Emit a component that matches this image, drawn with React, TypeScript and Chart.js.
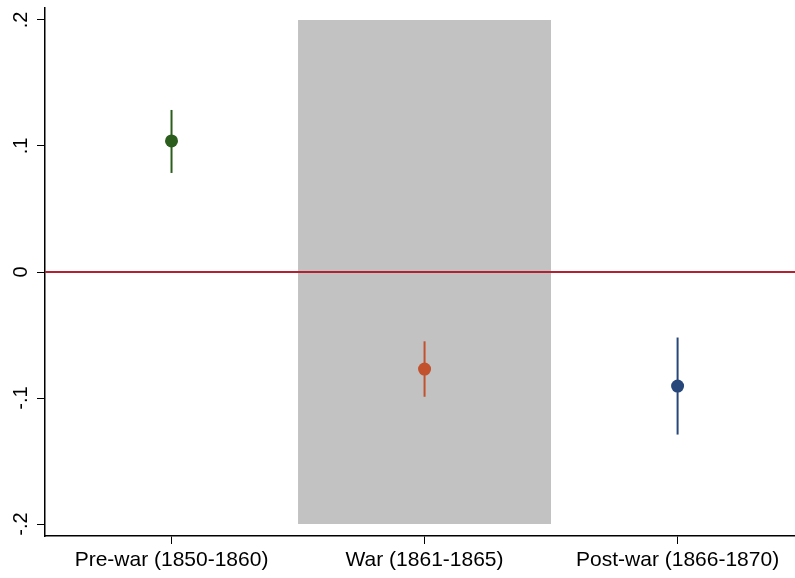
import React, { useEffect, useRef } from "react";
import { Chart, registerables } from "chart.js";

Chart.register(...registerables);

// Periods and their estimated effects with 95% confidence intervals
const periods = ["Pre-war (1850-1860)", "War (1861-1865)", "Post-war (1866-1870)"];
const positions = [1, 2, 3];
const estimates = [0.104, -0.077, -0.0905];
const ciLow = [0.0786, -0.099, -0.129];
const ciHigh = [0.1286, -0.055, -0.052];
const colors = ["#2b5e1c", "#c1522d", "#27477a"];

// Shaded war period
const bandX = [1.5, 2.5];
const bandLow = -0.2;
const bandHigh = 0.2;

const yTicks = [-0.2, -0.1, 0, 0.1, 0.2];
const yRange = [-0.2095, 0.2095];
const xRange = [0.5, 3.464];

const FONT_FAMILY = "'Liberation Sans', Arial, Helvetica, sans-serif";

const fmt = (v: number) => {
  if (Math.abs(v) < 1e-9) return "0";
  return v.toFixed(1).replace("0.", ".");
};

// Vertical y-axis labels, reading bottom to top, centred on their ticks
const rotatedYLabels = {
  id: "rotatedYLabels",
  afterDraw(chart: any) {
    const { ctx, scales } = chart;
    const y = scales.y;
    ctx.save();
    ctx.fillStyle = "#000";
    ctx.font = `20px ${FONT_FAMILY}`;
    ctx.textAlign = "center";
    ctx.textBaseline = "middle";
    yTicks.forEach((v) => {
      const py = y.getPixelForValue(v);
      ctx.save();
      ctx.translate(y.right - 24, py);
      ctx.rotate(-Math.PI / 2);
      ctx.fillText(fmt(v), 0, 0);
      ctx.restore();
    });
    ctx.restore();
  },
};

export default function App() {
  const ref = useRef<HTMLCanvasElement>(null);

  useEffect(() => {
    if (!ref.current) return;
    const font = { family: FONT_FAMILY, size: 21 };

    const datasets: any[] = [
      {
        data: bandX.map((x) => ({ x, y: bandLow })),
        showLine: true,
        borderWidth: 0,
        pointRadius: 0,
        fill: false,
        order: 10,
      },
      {
        data: bandX.map((x) => ({ x, y: bandHigh })),
        showLine: true,
        borderWidth: 0,
        pointRadius: 0,
        fill: "-1",
        backgroundColor: "#c2c2c2",
        order: 9,
      },
      {
        data: xRange.map((x) => ({ x, y: 0 })),
        showLine: true,
        borderColor: "#b42130",
        borderWidth: 1.8,
        pointRadius: 0,
        order: 5,
      },
    ];

    positions.forEach((p, i) => {
      datasets.push({
        data: [
          { x: p, y: ciLow[i] },
          { x: p, y: ciHigh[i] },
        ],
        showLine: true,
        borderColor: colors[i],
        borderWidth: 2,
        pointRadius: 0,
        order: 3,
      });
    });

    datasets.push({
      data: positions.map((p, i) => ({ x: p, y: estimates[i] })),
      showLine: false,
      pointRadius: 6.5,
      pointBackgroundColor: colors,
      pointBorderColor: colors,
      pointBorderWidth: 0,
      order: 1,
    });

    const chart = new Chart(ref.current, {
      type: "scatter",
      data: { datasets },
      plugins: [rotatedYLabels],
      options: {
        animation: false,
        responsive: false,
        layout: { autoPadding: false, padding: { top: 8, right: 0, left: 0, bottom: 0 } },
        plugins: { legend: { display: false }, tooltip: { enabled: false } },
        scales: {
          x: {
            type: "linear",
            min: xRange[0],
            max: xRange[1],
            afterBuildTicks: (s: any) => {
              s.ticks = positions.map((v) => ({ value: v }));
            },
            afterFit: (s: any) => {
              s.height = 42;
              s.paddingLeft = 0;
              s.paddingRight = 0;
            },
            ticks: {
              color: "#000",
              font,
              padding: 4,
              maxRotation: 0,
              minRotation: 0,
              callback: (v: any) => periods[positions.indexOf(Number(v))] ?? "",
            },
            grid: { drawOnChartArea: false, drawTicks: true, tickLength: 8, color: "#000", lineWidth: 1 },
            border: { display: true, color: "#000", width: 1.5 },
          },
          y: {
            type: "linear",
            min: yRange[0],
            max: yRange[1],
            afterBuildTicks: (s: any) => {
              s.ticks = yTicks.map((v) => ({ value: v }));
            },
            afterFit: (s: any) => {
              s.width = 45;
              s.paddingTop = 0;
              s.paddingBottom = 0;
            },
            ticks: { display: false },
            grid: { drawOnChartArea: false, drawTicks: true, tickLength: 8, color: "#000", lineWidth: 1 },
            border: { display: true, color: "#000", width: 1.5 },
          },
        },
      },
    });
    return () => chart.destroy();
  }, []);

  return (
    <div style={{ position: "fixed", left: 0, top: 0, width: 795, height: 578, background: "#fff" }}>
      <canvas ref={ref} width={795} height={578} />
    </div>
  );
}
